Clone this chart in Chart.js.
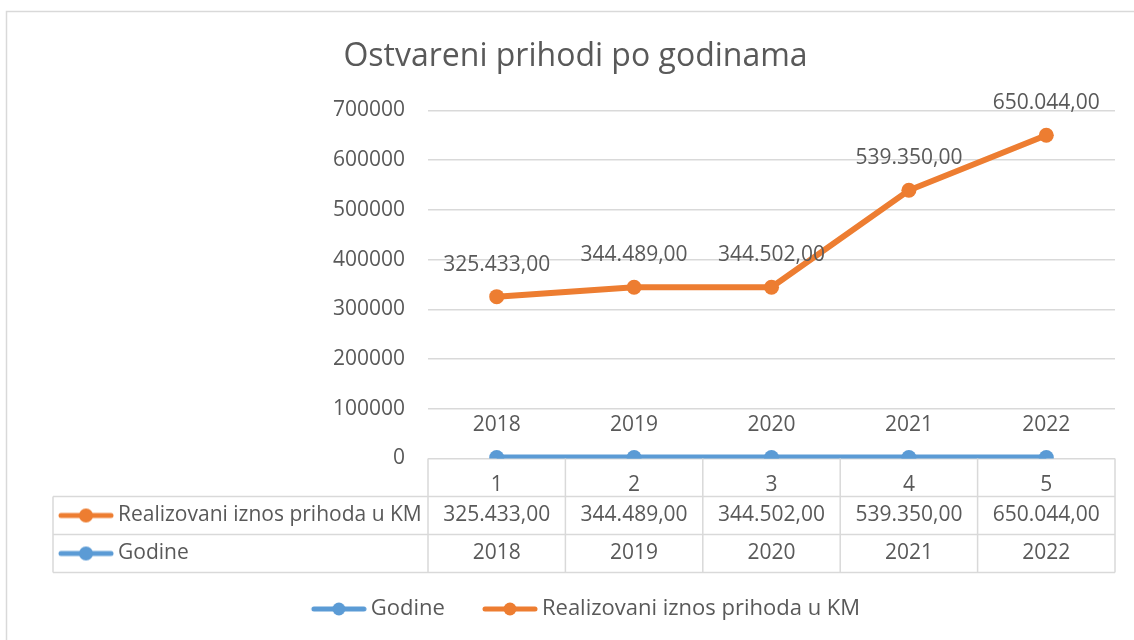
<!DOCTYPE html>
<html><head><meta charset="utf-8">
<script src="https://cdn.jsdelivr.net/npm/chart.js@4"></script>
<style>html,body{margin:0;padding:0;background:#fff}canvas{display:block}</style>
</head><body>
<canvas id="c" width="1134" height="640"></canvas>
<script>
const titleText = 'Ostvareni prihodi po godinama';
const categories = ['1', '2', '3', '4', '5'];
const years = [2018, 2019, 2020, 2021, 2022];
const revenue = [325433, 344489, 344502, 539350, 650044];
const seriesNames = ['Godine', 'Realizovani iznos prihoda u KM'];
const yMin = 0, yMax = 700000, yStep = 100000;

const BLUE = '#5B9BD5', ORANGE = '#ED7D31', TEXT = '#595959', GRID = '#D9D9D9';
const FONT = "'Open Sans', sans-serif";

function fmtKM(v) {
  const s = String(Math.floor(v));
  let out = '';
  for (let i = 0; i < s.length; i++) {
    if (i > 0 && (s.length - i) % 3 === 0) out += '.';
    out += s[i];
  }
  return out + ',00';
}
// icon: line+marker, drawn at the right end of a canvas of width w
function makeIcon(color, w, r) {
  const c = document.createElement('canvas');
  c.width = w; c.height = 16;
  const g = c.getContext('2d');
  const x0 = w - 56;
  g.strokeStyle = color; g.lineWidth = 5; g.lineCap = 'round';
  g.beginPath(); g.moveTo(x0 + 3, 8); g.lineTo(x0 + 53, 8); g.stroke();
  g.fillStyle = color; g.beginPath(); g.arc(x0 + 28, 8, r, 0, Math.PI * 2); g.fill();
  return c;
}
const tableIcons = [makeIcon(BLUE, 56, 7), makeIcon(ORANGE, 56, 7)];
const legendIcons = [makeIcon(BLUE, 83, 6.5), makeIcon(ORANGE, 83, 6.5)];
const formatters = [v => String(v), fmtKM];

Chart.defaults.font.family = FONT;
Chart.defaults.color = TEXT;

const framePlugin = {
  id: 'frame',
  beforeDraw(chart) {
    const ctx = chart.ctx;
    ctx.save();
    ctx.fillStyle = '#fff';
    ctx.fillRect(0, 0, chart.width, chart.height);
    ctx.strokeStyle = GRID; ctx.lineWidth = 1.5;
    ctx.strokeRect(6.5, 11.5, 1200, 700);
    ctx.restore();
  }
};

const valueLabels = {
  id: 'valueLabels',
  afterDatasetsDraw(chart) {
    const ctx = chart.ctx;
    ctx.save();
    ctx.font = '21px ' + FONT;
    ctx.fillStyle = TEXT; ctx.textAlign = 'center'; ctx.textBaseline = 'middle';
    chart.data.datasets.forEach((ds, i) => {
      const meta = chart.getDatasetMeta(i);
      meta.data.forEach((pt, j) => {
        ctx.fillText(formatters[i](ds.data[j]), pt.x, pt.y - 32);
      });
    });
    ctx.restore();
  }
};

const dataTable = {
  id: 'dataTable',
  afterDraw(chart) {
    const ctx = chart.ctx, area = chart.chartArea, xs = chart.scales.x;
    const n = categories.length;
    const colW = xs.getPixelForValue(1) - xs.getPixelForValue(0);
    const rowH = 38, tableLeft = 53;
    const top = area.bottom;
    ctx.save();
    ctx.strokeStyle = GRID; ctx.lineWidth = 1.5;
    ctx.beginPath();
    for (let r = 1; r <= 3; r++) {
      ctx.moveTo(tableLeft, top + r * rowH); ctx.lineTo(area.right, top + r * rowH);
    }
    for (let k = 0; k <= n; k++) {
      const x = xs.getPixelForValue(0) - colW / 2 + k * colW;
      ctx.moveTo(x, top); ctx.lineTo(x, top + 3 * rowH);
    }
    ctx.moveTo(tableLeft, top + rowH); ctx.lineTo(tableLeft, top + 3 * rowH);
    ctx.stroke();

    ctx.font = '21px ' + FONT;
    ctx.fillStyle = TEXT; ctx.textBaseline = 'middle';
    const order = [1, 0];
    order.forEach((di, r) => {
      const ds = chart.data.datasets[di];
      const cy = top + (r + 1) * rowH + rowH / 2;
      ctx.drawImage(tableIcons[di], tableLeft + 5, cy - 8);
      ctx.textAlign = 'left';
      ctx.fillText(ds.label, tableLeft + 65, cy);
      ctx.textAlign = 'center';
      ds.data.forEach((v, j) => ctx.fillText(formatters[di](v), xs.getPixelForValue(j), cy));
    });
    ctx.restore();
  }
};

new Chart(document.getElementById('c'), {
  type: 'line',
  data: {
    labels: categories,
    datasets: [
      { label: seriesNames[0], data: years, borderColor: BLUE, backgroundColor: BLUE,
        borderWidth: 6, pointRadius: 7.5, pointBorderWidth: 0, pointBackgroundColor: BLUE, tension: 0 },
      { label: seriesNames[1], data: revenue, borderColor: ORANGE, backgroundColor: ORANGE,
        borderWidth: 6, pointRadius: 7.5, pointBorderWidth: 0, pointBackgroundColor: ORANGE, tension: 0 }
    ]
  },
  options: {
    responsive: false,
    animation: false,
    layout: { padding: { left: 36, right: 19, top: 0, bottom: 10 } },
    scales: {
      x: {
        type: 'category', offset: true,
        grid: { display: false }, border: { display: false },
        ticks: { font: { size: 21 }, color: TEXT, padding: 6, maxRotation: 0, autoSkip: false },
        afterFit(s) { s.height = 122.5; }
      },
      y: {
        min: yMin, max: yMax,
        ticks: { stepSize: yStep, callback: v => String(v), font: { size: 21 }, color: TEXT, padding: 23 },
        grid: { color: GRID, lineWidth: 1.5, drawTicks: false },
        border: { display: false },
        afterFit(s) { s.width = 392; }
      }
    },
    plugins: {
      title: { display: true, text: titleText, font: { size: 32, weight: 'normal' }, color: TEXT,
        padding: { top: 38, bottom: 34 } },
      legend: {
        position: 'bottom',
        labels: {
          usePointStyle: true, pointStyleWidth: 69, padding: 17,
          font: { size: 22 }, color: TEXT,
          generateLabels(chart) {
            return chart.data.datasets.map((ds, i) => ({
              text: ds.label, pointStyle: legendIcons[i], datasetIndex: i, hidden: false,
              fillStyle: 'transparent', strokeStyle: 'transparent', lineWidth: 0, fontColor: TEXT
            }));
          }
        }
      },
      tooltip: { enabled: false }
    }
  },
  plugins: [framePlugin, valueLabels, dataTable]
});
</script>
</body></html>
